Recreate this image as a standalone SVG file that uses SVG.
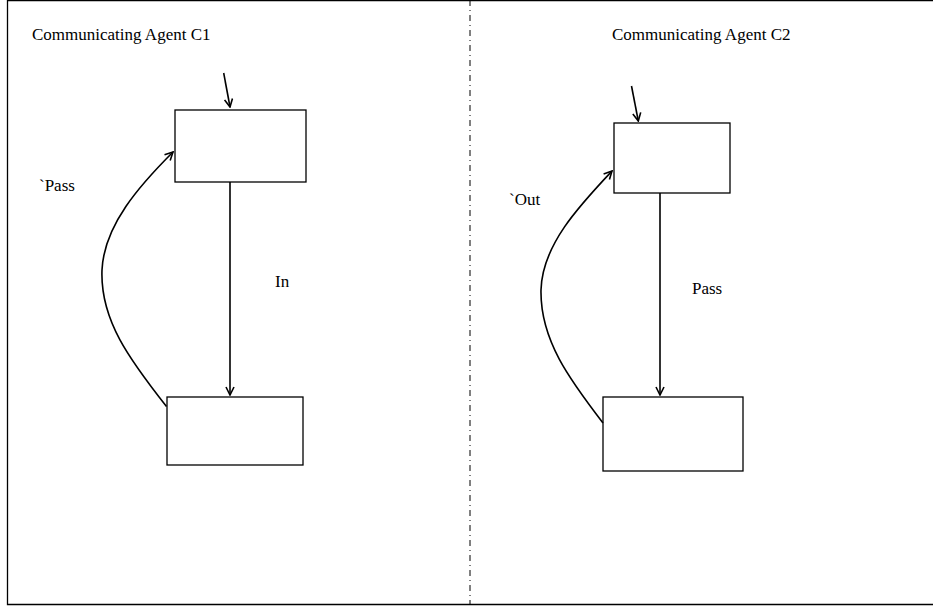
<svg xmlns="http://www.w3.org/2000/svg" width="933" height="608" viewBox="0 0 933 608">
  <style>
    .frame { fill: none; stroke: #000; stroke-width: 1.3; }
    .state { fill: #fff; stroke: #000; stroke-width: 1.3; }
    .edge { fill: none; stroke: #000; stroke-width: 1.6; marker-end: url(#arrow); }
    .label { font-family: "Liberation Serif", "Times New Roman", serif; font-size: 17px; fill: #000; }
  </style>
  <defs>
    <marker id="arrow" viewBox="0 0 10 10" refX="9" refY="5" markerWidth="10" markerHeight="10" markerUnits="userSpaceOnUse" orient="auto">
      <path d="M1,1 L9,5 L1,9" fill="none" stroke="#000" stroke-width="1.6"/>
    </marker>
  </defs>

  <rect width="933" height="608" fill="#fff"/>

  <!-- outer frame and agent divider -->
  <g id="frame">
    <path class="frame" d="M933,0.5 H7.5 V604.5 H933"/>
    <line x1="470" y1="0" x2="470" y2="604" stroke="#000" stroke-width="1" stroke-dasharray="6,4,1,4"/>
  </g>

  <!-- agent titles -->
  <text id="title-c1" class="label" x="32" y="40">Communicating Agent C1</text>
  <text id="title-c2" class="label" x="612" y="40">Communicating Agent C2</text>

  <!-- agent C1 states -->
  <g id="c1-top"><rect class="state" x="175" y="110" width="131" height="72"/></g>
  <g id="c1-bottom"><rect class="state" x="167" y="397" width="136" height="68"/></g>

  <!-- agent C2 states -->
  <g id="c2-top"><rect class="state" x="614" y="123" width="116" height="70"/></g>
  <g id="c2-bottom"><rect class="state" x="603" y="397" width="140" height="74"/></g>

  <!-- transitions -->
  <g id="connectors">
    <line class="edge" x1="223.7" y1="73" x2="230" y2="107"/>
    <line class="edge" x1="230" y1="182" x2="230" y2="395"/>
    <path class="edge" d="M166.5,406.5 C130,360 100,320 102,270 C104,225 140,185 173,152"/>

    <line class="edge" x1="631.5" y1="86" x2="638.3" y2="121"/>
    <line class="edge" x1="660" y1="193" x2="660" y2="395"/>
    <path class="edge" d="M603,423 C570,380 540,340 541,290 C542,245 580,205 612,171"/>
  </g>

  <!-- transition labels -->
  <text id="lbl-pass-out" class="label" x="39" y="191">`Pass</text>
  <text id="lbl-in" class="label" x="275" y="287">In</text>
  <text id="lbl-out" class="label" x="509" y="205">`Out</text>
  <text id="lbl-pass-in" class="label" x="692" y="294">Pass</text>
</svg>
